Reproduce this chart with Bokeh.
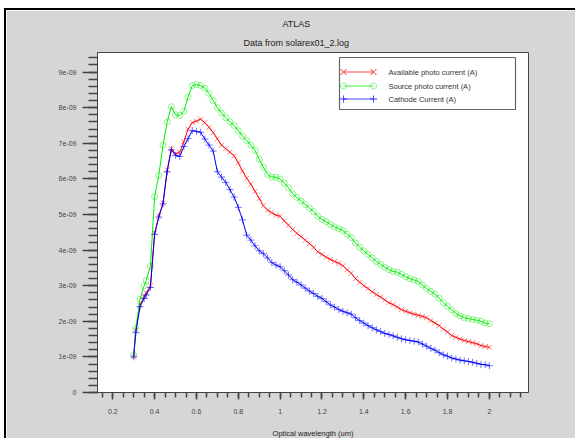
from bokeh.plotting import figure
from bokeh.models import (FixedTicker, CustomJSTickFormatter, Title, Range1d,
                          BoxAnnotation, PolyAnnotation, Label)
from bokeh.embed import file_html
from bokeh.resources import INLINE
import math

# ---------------- data (values in A) ----------------
wavelength = [0.30, 0.31, 0.33, 0.35, 0.36, 0.38, 0.40, 0.42, 0.44, 0.46, 0.48, 0.50,
              0.52, 0.54, 0.56, 0.58, 0.60, 0.62, 0.64, 0.66, 0.68, 0.70, 0.72, 0.74,
              0.76, 0.78, 0.80, 0.82, 0.84, 0.86, 0.88, 0.90, 0.92, 0.94, 0.96, 0.98,
              1.00, 1.02, 1.04, 1.06, 1.08, 1.10, 1.12, 1.14, 1.16, 1.18, 1.20, 1.22,
              1.24, 1.26, 1.28, 1.30, 1.32, 1.34, 1.36, 1.38, 1.40, 1.42, 1.44, 1.46,
              1.48, 1.50, 1.52, 1.54, 1.56, 1.58, 1.60, 1.62, 1.64, 1.66, 1.68, 1.70,
              1.72, 1.74, 1.76, 1.78, 1.80, 1.82, 1.84, 1.86, 1.88, 1.90, 1.92, 1.94,
              1.96, 1.98, 2.00]

available_nA = [1.00, 1.75, 2.45, 2.70, 2.80, 3.00, 4.48, 4.95, 5.32, 6.25, 6.85, 6.70,
                6.75, 7.05, 7.40, 7.58, 7.62, 7.68, 7.58, 7.45, 7.30, 7.12, 6.95, 6.85,
                6.75, 6.65, 6.45, 6.22, 6.02, 5.85, 5.65, 5.45, 5.25, 5.12, 5.05, 4.98,
                4.95, 4.82, 4.70, 4.58, 4.47, 4.38, 4.28, 4.18, 4.08, 3.95, 3.88, 3.80,
                3.74, 3.68, 3.63, 3.56, 3.45, 3.35, 3.20, 3.10, 3.00, 2.92, 2.83, 2.75,
                2.68, 2.60, 2.52, 2.47, 2.40, 2.33, 2.28, 2.24, 2.20, 2.17, 2.14, 2.10,
                2.02, 1.95, 1.88, 1.78, 1.70, 1.60, 1.55, 1.50, 1.46, 1.43, 1.40, 1.37,
                1.32, 1.29, 1.27]

source_nA = [1.05, 1.80, 2.62, 3.00, 3.15, 3.55, 5.50, 6.10, 6.95, 7.60, 8.03, 7.80,
             7.78, 7.90, 8.30, 8.62, 8.65, 8.62, 8.55, 8.40, 8.20, 8.00, 7.85, 7.72,
             7.60, 7.50, 7.35, 7.20, 7.08, 6.95, 6.80, 6.55, 6.33, 6.12, 6.05, 6.05,
             6.00, 5.88, 5.75, 5.58, 5.48, 5.38, 5.28, 5.18, 5.08, 4.95, 4.86, 4.80,
             4.72, 4.65, 4.60, 4.55, 4.45, 4.35, 4.20, 4.08, 3.98, 3.88, 3.78, 3.68,
             3.60, 3.52, 3.45, 3.40, 3.38, 3.32, 3.25, 3.20, 3.16, 3.12, 3.02, 2.92,
             2.84, 2.76, 2.65, 2.52, 2.42, 2.32, 2.22, 2.15, 2.10, 2.08, 2.05, 2.03,
             2.00, 1.95, 1.93]

cathode_nA = [1.00, 1.68, 2.41, 2.64, 2.74, 2.95, 4.44, 4.93, 5.30, 6.20, 6.82, 6.66,
              6.63, 6.91, 7.13, 7.36, 7.33, 7.31, 7.12, 6.95, 6.78, 6.20, 6.05, 5.90,
              5.70, 5.49, 5.20, 4.85, 4.42, 4.28, 4.12, 3.98, 3.90, 3.78, 3.65, 3.58,
              3.53, 3.42, 3.30, 3.17, 3.10, 3.02, 2.93, 2.85, 2.78, 2.70, 2.64, 2.55,
              2.46, 2.40, 2.33, 2.28, 2.24, 2.20, 2.10, 2.02, 1.95, 1.88, 1.82, 1.76,
              1.71, 1.66, 1.63, 1.59, 1.55, 1.51, 1.48, 1.46, 1.44, 1.42, 1.36, 1.30,
              1.24, 1.19, 1.12, 1.06, 1.02, 0.97, 0.94, 0.91, 0.89, 0.87, 0.85, 0.82,
              0.79, 0.78, 0.75]

series_names = ["Available photo current (A)", "Source photo current (A)", "Cathode Current (A)"]
x_ticks = [0.2, 0.4, 0.6, 0.8, 1.0, 1.2, 1.4, 1.6, 1.8, 2.0]
y_ticks = [0, 1e-9, 2e-9, 3e-9, 4e-9, 5e-9, 6e-9, 7e-9, 8e-9, 9e-9]

available = [v * 1e-9 for v in available_nA]
source = [v * 1e-9 for v in source_nA]
cathode = [v * 1e-9 for v in cathode_nA]

BG = "#d6d6d6"
FONT = "Liberation Sans"

p = figure(width=571, height=430, output_backend="svg", toolbar_location=None,
           x_range=Range1d(0.127, 2.187), y_range=Range1d(0, 9.55e-9),
           min_border_left=91, min_border_right=49, min_border_top=42, min_border_bottom=47,
           background_fill_color="white", border_fill_color=BG)
p.styles = {"margin-left": "4px", "margin-top": "8px",
            "border-left": "2px solid black", "border-top": "2px solid black"}

p.title.text = "ATLAS"
p.title.align = "left"
p.title.offset = 185
p.title.text_font = FONT
p.title.text_font_size = "9px"
p.title.text_font_style = "normal"
p.title.text_color = "#222222"
p.title.standoff = 5
p.add_layout(Title(text="Data from solarex01_2.log", align="left", offset=146,
                   text_font=FONT, text_font_size="9px", text_font_style="normal",
                   text_color="#222222", standoff=9), "above")

p.grid.visible = False
p.outline_line_color = "#444444"
p.outline_line_width = 1

# axes
xa = p.xaxis[0]
xa.ticker = FixedTicker(ticks=x_ticks,
                        minor_ticks=[0.15 + 0.05 * i for i in range(41)])
xa.formatter = CustomJSTickFormatter(code="return (Math.round(tick*10)/10).toString();")
xa.axis_label = "Optical wavelength (um)"
xa.major_tick_out = 7
xa.major_tick_in = 0
xa.minor_tick_out = 5
xa.minor_tick_in = 0
xa.major_label_standoff = 9
xa.axis_label_standoff = 12

ya = p.yaxis[0]
ya.ticker = FixedTicker(ticks=y_ticks,
                        minor_ticks=[2e-10 * i for i in range(48)])
ya.formatter = CustomJSTickFormatter(
    code="if (Math.abs(tick) < 1e-15) { return '0'; } "
         "return tick.toExponential(0).replace(/e([+-])(\\d)$/, 'e$10$2');")
ya.major_tick_out = 15
ya.major_tick_in = 0
ya.minor_tick_out = 9
ya.minor_tick_in = 0
ya.major_label_standoff = 6

for ax in (xa, ya):
    ax.axis_line_color = "#444444"
    ax.major_tick_line_color = "#444444"
    ax.minor_tick_line_color = "#444444"
    ax.major_tick_line_width = 1.5
    ax.minor_tick_line_width = 1.5
    ax.major_label_text_font = FONT
    ax.major_label_text_font_size = "7px"
    ax.major_label_text_color = "#444444"
    ax.axis_label_text_font = FONT
    ax.axis_label_text_font_size = "7.5px"
    ax.axis_label_text_font_style = "normal"
    ax.axis_label_text_color = "#222222"

colors = ["#ff0000", "#00ee00", "#0000ff"]
legend_colors = ["#ff3030", "#30ee30", "#3030ff"]
markers = ["x", "circle", "cross"]
sizes = [7, 6, 7]
alphas = [0.5, 0.45, 0.55]
for ys, c, m, s, a in zip([available, source, cathode], colors, markers, sizes, alphas):
    p.line(wavelength, ys, line_color=c, line_width=1)
    p.scatter(wavelength, ys, marker=m, size=s, line_color=c, line_alpha=a,
              fill_color=None, line_width=1)

# ---------------- legend, drawn as screen-space annotations ----------------
SCR = dict(xs_units="screen", ys_units="screen")
p.add_layout(BoxAnnotation(left=242, right=418, bottom=283, top=335,
                           left_units="screen", right_units="screen",
                           bottom_units="screen", top_units="screen",
                           fill_color="white", fill_alpha=1, line_color="#666666",
                           line_alpha=1, line_width=1.2, level="overlay"))


def marker_poly(kind, cx, cy):
    if kind == "x":
        r = 3
        return ([cx - r, cx + r, cx, cx - r, cx + r, cx],
                [cy - r, cy + r, cy, cy + r, cy - r, cy])
    if kind == "cross":
        r = 3.5
        return ([cx - r, cx + r, cx, cx, cx, cx],
                [cy, cy, cy, cy + r, cy - r, cy])
    r = 3
    n = 14
    return ([cx + r * math.cos(2 * math.pi * k / n) for k in range(n)],
            [cy + r * math.sin(2 * math.pi * k / n) for k in range(n)])


row_y = [320.5, 306.5, 293.5]
x0, x1, xt = 246, 276, 291
for name, c, m, ry in zip(series_names, legend_colors, markers, row_y):
    p.add_layout(PolyAnnotation(xs=[x0, x1], ys=[ry, ry], fill_color=None,
                                line_color=c, line_alpha=0.9, line_width=1,
                                level="overlay", **SCR))
    for cx in (x0, x1):
        mx, my = marker_poly(m, cx, ry)
        p.add_layout(PolyAnnotation(xs=mx, ys=my, fill_color=None, line_color=c,
                                    line_alpha=0.6, line_width=1, level="overlay",
                                    **SCR))
    p.add_layout(Label(x=xt, y=ry, x_units="screen", y_units="screen", text=name,
                       text_font=FONT, text_font_size="7.5px", text_color="#333333",
                       text_baseline="middle", text_align="left", level="overlay"))

open("out.html", "w").write(file_html(p, INLINE))
